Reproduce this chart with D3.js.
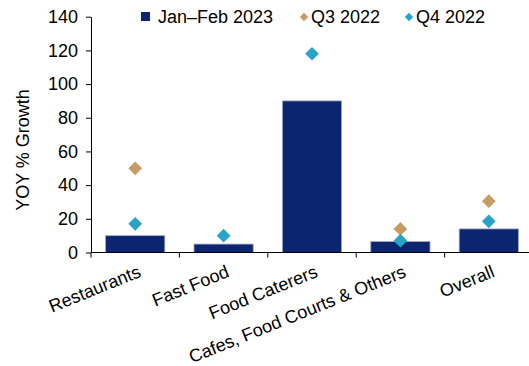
<!DOCTYPE html>
<html>
<head>
<meta charset="utf-8">
<script src="https://cdn.jsdelivr.net/npm/d3@7"></script>
<style>
  html, body { margin: 0; padding: 0; background: #fff; }
  svg { display: block; font-family: "Liberation Sans", Arial, sans-serif; }
</style>
</head>
<body>
<svg id="chart" width="529" height="366"></svg>
<script>
// YOY growth by food-service segment
const categories = ["Restaurants", "Fast Food", "Food Caterers", "Cafes, Food Courts & Others", "Overall"];
const janFeb2023 = [10, 5, 90, 6.5, 14];
const q3_2022 = [50, null, null, 14, 30.5];
const q4_2022 = [17, 10, 118, 7, 18.5];
const yTicks = [0, 20, 40, 60, 80, 100, 120, 140];
const seriesNames = ["Jan\u2013Feb 2023", "Q3 2022", "Q4 2022"];
const colors = { bar: "#0c2570", q3: "#c69c65", q4: "#2aa3c8" };

const fontSize = 18;
const svg = d3.select("#chart");
const plotLeft = 91, plotRight = 533, plotTop = 16.7, plotBottom = 252.5;

const x = d3.scaleBand().domain(categories).range([plotLeft, plotRight]).paddingInner(0.33).paddingOuter(0.165);
const y = d3.scaleLinear().domain([0, 140]).range([plotBottom, plotTop]);

// bars
svg.append("g").selectAll("rect").data(categories).join("rect")
  .attr("x", d => x(d))
  .attr("width", x.bandwidth())
  .attr("y", (d, i) => y(janFeb2023[i]))
  .attr("height", (d, i) => y(0) - y(janFeb2023[i]))
  .attr("fill", colors.bar)
  .attr("stroke", "#a3abc6")
  .attr("stroke-width", 0.8);

// diamond markers
const diamond = d3.symbol().type(d3.symbolDiamond2);
function markers(vals, color, size) {
  svg.append("g").selectAll("path")
    .data(categories.map((c, i) => ({ c, v: vals[i] })).filter(d => d.v != null))
    .join("path")
    .attr("d", diamond.size(size)())
    .attr("transform", d => `translate(${x(d.c) + x.bandwidth() / 2},${y(d.v)})`)
    .attr("fill", color);
}
markers(q3_2022, colors.q3, 120);
markers(q4_2022, colors.q4, 120);

// y axis
const yAxis = svg.append("g").attr("transform", `translate(${plotLeft},0)`)
  .call(d3.axisLeft(y).tickValues(yTicks).tickSize(5).tickSizeOuter(0).tickPadding(8));
yAxis.select(".domain").attr("stroke", "#000");
yAxis.selectAll(".tick line").attr("stroke", "#000");
yAxis.selectAll("text").attr("font-size", fontSize).attr("fill", "#000").attr("font-family", "Liberation Sans, Arial, sans-serif");

// x axis: baseline with ticks at category boundaries
const xg = svg.append("g");
xg.append("line").attr("x1", plotLeft).attr("x2", 529).attr("y1", plotBottom).attr("y2", plotBottom).attr("stroke", "#000");
const step = x.step();
xg.selectAll("line.tk").data(categories).join("line").attr("class", "tk")
  .attr("x1", d => x(d) - step * x.paddingInner() / 2)
  .attr("x2", d => x(d) - step * x.paddingInner() / 2)
  .attr("y1", plotBottom).attr("y2", plotBottom + 5).attr("stroke", "#000");

// rotated category labels
xg.selectAll("text").data(categories).join("text")
  .attr("transform", d => `translate(${x(d) + x.bandwidth() / 2 + 2},${plotBottom + 12}) rotate(-22)`)
  .attr("text-anchor", "end")
  .attr("dy", "0.71em")
  .attr("font-size", fontSize)
  .attr("fill", "#000")
  .text(d => d);

// y axis title
svg.append("text")
  .attr("transform", `translate(29,150) rotate(-90)`)
  .attr("text-anchor", "middle")
  .attr("font-size", fontSize)
  .attr("fill", "#000")
  .text("YOY % Growth");

// legend
const lg = svg.append("g").attr("font-size", fontSize).attr("fill", "#000");
lg.append("rect").attr("x", 141).attr("y", 12).attr("width", 9).attr("height", 9).attr("fill", colors.bar);
lg.append("text").attr("x", 158).attr("y", 23).text(seriesNames[0]);
lg.append("path").attr("d", diamond.size(45)()).attr("transform", "translate(304,17)").attr("fill", colors.q3);
lg.append("text").attr("x", 311).attr("y", 23).text(seriesNames[1]);
lg.append("path").attr("d", diamond.size(45)()).attr("transform", "translate(409,17)").attr("fill", colors.q4);
lg.append("text").attr("x", 416).attr("y", 23).text(seriesNames[2]);
</script>
</body>
</html>
